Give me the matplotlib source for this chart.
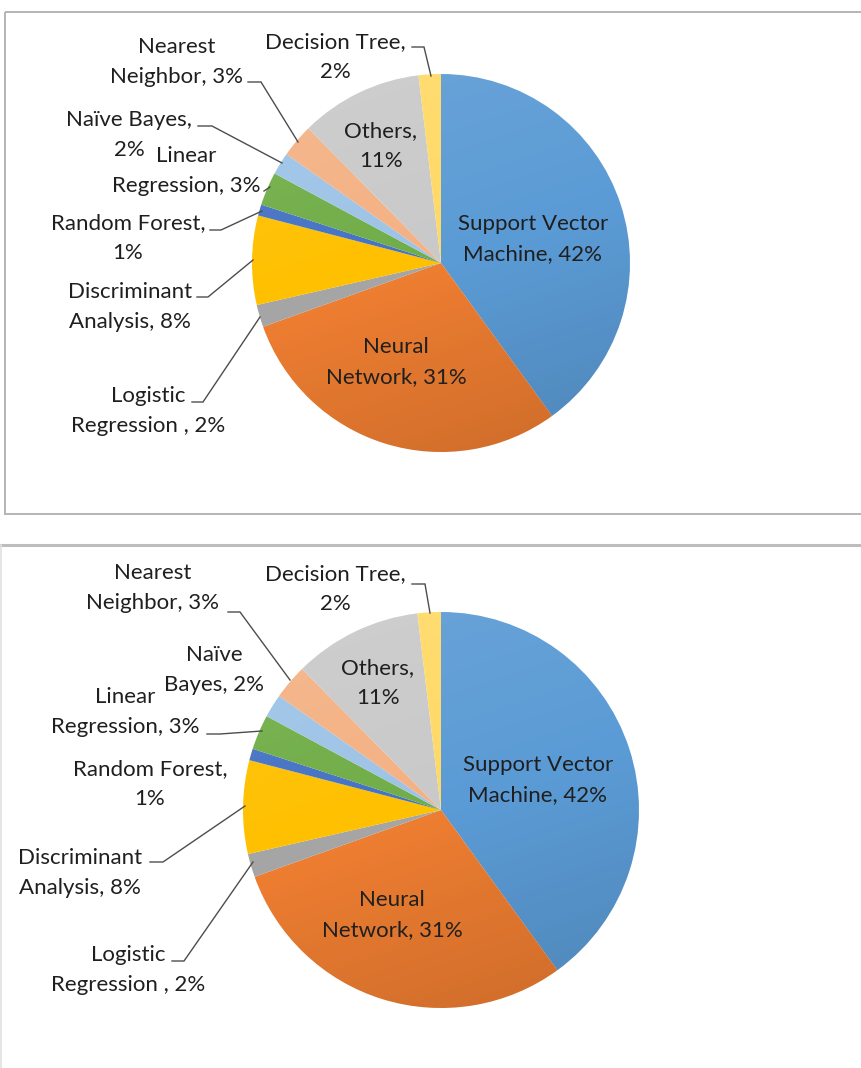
import numpy as np
import matplotlib
matplotlib.use("Agg")
import matplotlib.pyplot as plt
from matplotlib.patches import Circle, Rectangle

plt.rcParams['font.family'] = ['Lato', 'DejaVu Sans']

# algorithm shares (%), clockwise from 12 o'clock
methods = ['Support Vector Machine', 'Neural Network', 'Logistic Regression',
           'Discriminant Analysis', 'Random Forest', 'Linear Regression',
           'Naive Bayes', 'Nearest Neighbor', 'Others', 'Decision Tree']
shares = [42, 31, 2, 8, 1, 3, 2, 3, 11, 2]
colors = ['#5b9bd5', '#ed7d31', '#a5a5a5', '#ffc000', '#4472c4',
          '#70ad47', '#9dc3e6', '#f4b183', '#c9c9c9', '#ffd966']

top_labels = ['Support Vector\nMachine, {}%', 'Neural\nNetwork, {}%',
              'Logistic\nRegression , {}%', 'Discriminant\nAnalysis, {}%',
              'Random Forest,\n{}%', 'Linear\nRegression, {}%',
              'Naïve Bayes,\n{}%', 'Nearest\nNeighbor, {}%',
              'Others,\n{}%', 'Decision Tree,\n{}%']
bottom_labels = ['Support Vector\nMachine, {}%', 'Neural\nNetwork, {}%',
                 'Logistic\nRegression , {}%', 'Discriminant\nAnalysis, {}%',
                 'Random Forest,\n{}%', 'Linear\nRegression, {}%',
                 'Naïve\nBayes, {}%', 'Nearest\nNeighbor, {}%',
                 'Others,\n{}%', 'Decision Tree,\n{}%']

# layout in pixels (y down): pie centre/radius, label centres, leader lines
panels = [
    dict(center=(441, 263), radius=189, labels=top_labels,
         pos=[(533, 239), (396, 362), (148, 411), (130, 307), (128, 238),
              (186, 171), (129, 135), (177, 62), (381, 146), (335, 57)],
         leaders=[None, None,
                  [(192, 402), (203, 402), (260, 317)],
                  [(197, 297), (208, 297), (253, 260)],
                  [(210, 230), (221, 230), (262, 211)],
                  [(264, 191), (270, 187)],
                  [(198, 126), (212, 126), (282, 163)],
                  [(248, 82), (261, 82), (298, 142)],
                  None,
                  [(412, 47), (424, 47), (431, 76)]]),
    dict(center=(441, 810), radius=198, labels=bottom_labels,
         pos=[(538, 780), (392, 915), (128, 970), (80, 873), (150, 784),
              (125, 712), (214, 670), (153, 588), (378, 683), (335, 589)],
         leaders=[None, None,
                  [(172, 961), (184, 961), (253, 862)],
                  [(150, 862), (163, 862), (245, 806)],
                  None,
                  [(207, 734), (220, 734), (262, 731)],
                  None,
                  [(228, 612), (240, 612), (290, 680)],
                  None,
                  [(412, 584), (425, 584), (430, 613)]]),
]
line_gap = 30  # px between label lines

W, H = 862, 1068
fig = plt.figure(figsize=(W / 100, H / 100), dpi=100)
ax = fig.add_axes([0, 0, 1, 1])

for p in panels:
    cx, cy = p['center']
    r = p['radius']
    wedges, _ = ax.pie(shares, colors=colors, center=(cx, cy), radius=r,
                       startangle=-90, counterclock=True,
                       wedgeprops=dict(linewidth=0))
    # soft light-to-dark shading over the disc
    n = 200
    yy, xx = np.mgrid[0:1:n * 1j, 0:1:n * 1j]
    t = 0.75 * yy + 0.25 * xx
    shade = np.zeros((n, n, 4))
    light = np.clip(1 - 2 * t, 0, 1)
    dark = np.clip(2 * t - 1, 0, 1)
    shade[..., :3] = (light > 0)[..., None] * 1.0
    shade[..., 3] = 0.10 * light + 0.14 * dark
    im = ax.imshow(shade, extent=(cx - r, cx + r, cy + r, cy - r),
                   origin='upper', interpolation='bilinear', zorder=3)
    im.set_clip_path(Circle((cx, cy), r, transform=ax.transData))

    for text, v, (tx, ty), lead in zip(p['labels'], shares, p['pos'], p['leaders']):
        lines = text.format(v).split('\n')
        for i, line in enumerate(lines):
            ly = ty + (i - (len(lines) - 1) / 2) * line_gap
            ax.text(tx, ly, line, ha='center', va='center',
                    fontsize=16, color='#1f1f1f', zorder=5)
        if lead:
            xs, ys = zip(*lead)
            ax.plot(xs, ys, color='#4d4d4d', lw=1.0, zorder=4,
                    solid_joinstyle='miter')

# chart frames
ax.add_patch(Rectangle((5, 12), 880, 502, fill=False, ec='#b4b4b4', lw=1.4,
                       zorder=6, clip_on=False))
ax.plot([0, W], [545, 545], color='#bdbdbd', lw=2.2, zorder=6)
ax.plot([1, 1], [545, H], color='#e0e0e0', lw=1.2, zorder=6)

ax.set_xlim(0, W)
ax.set_ylim(H, 0)
ax.set_aspect('auto')
ax.axis('off')

fig.savefig('out.png', dpi=100)
